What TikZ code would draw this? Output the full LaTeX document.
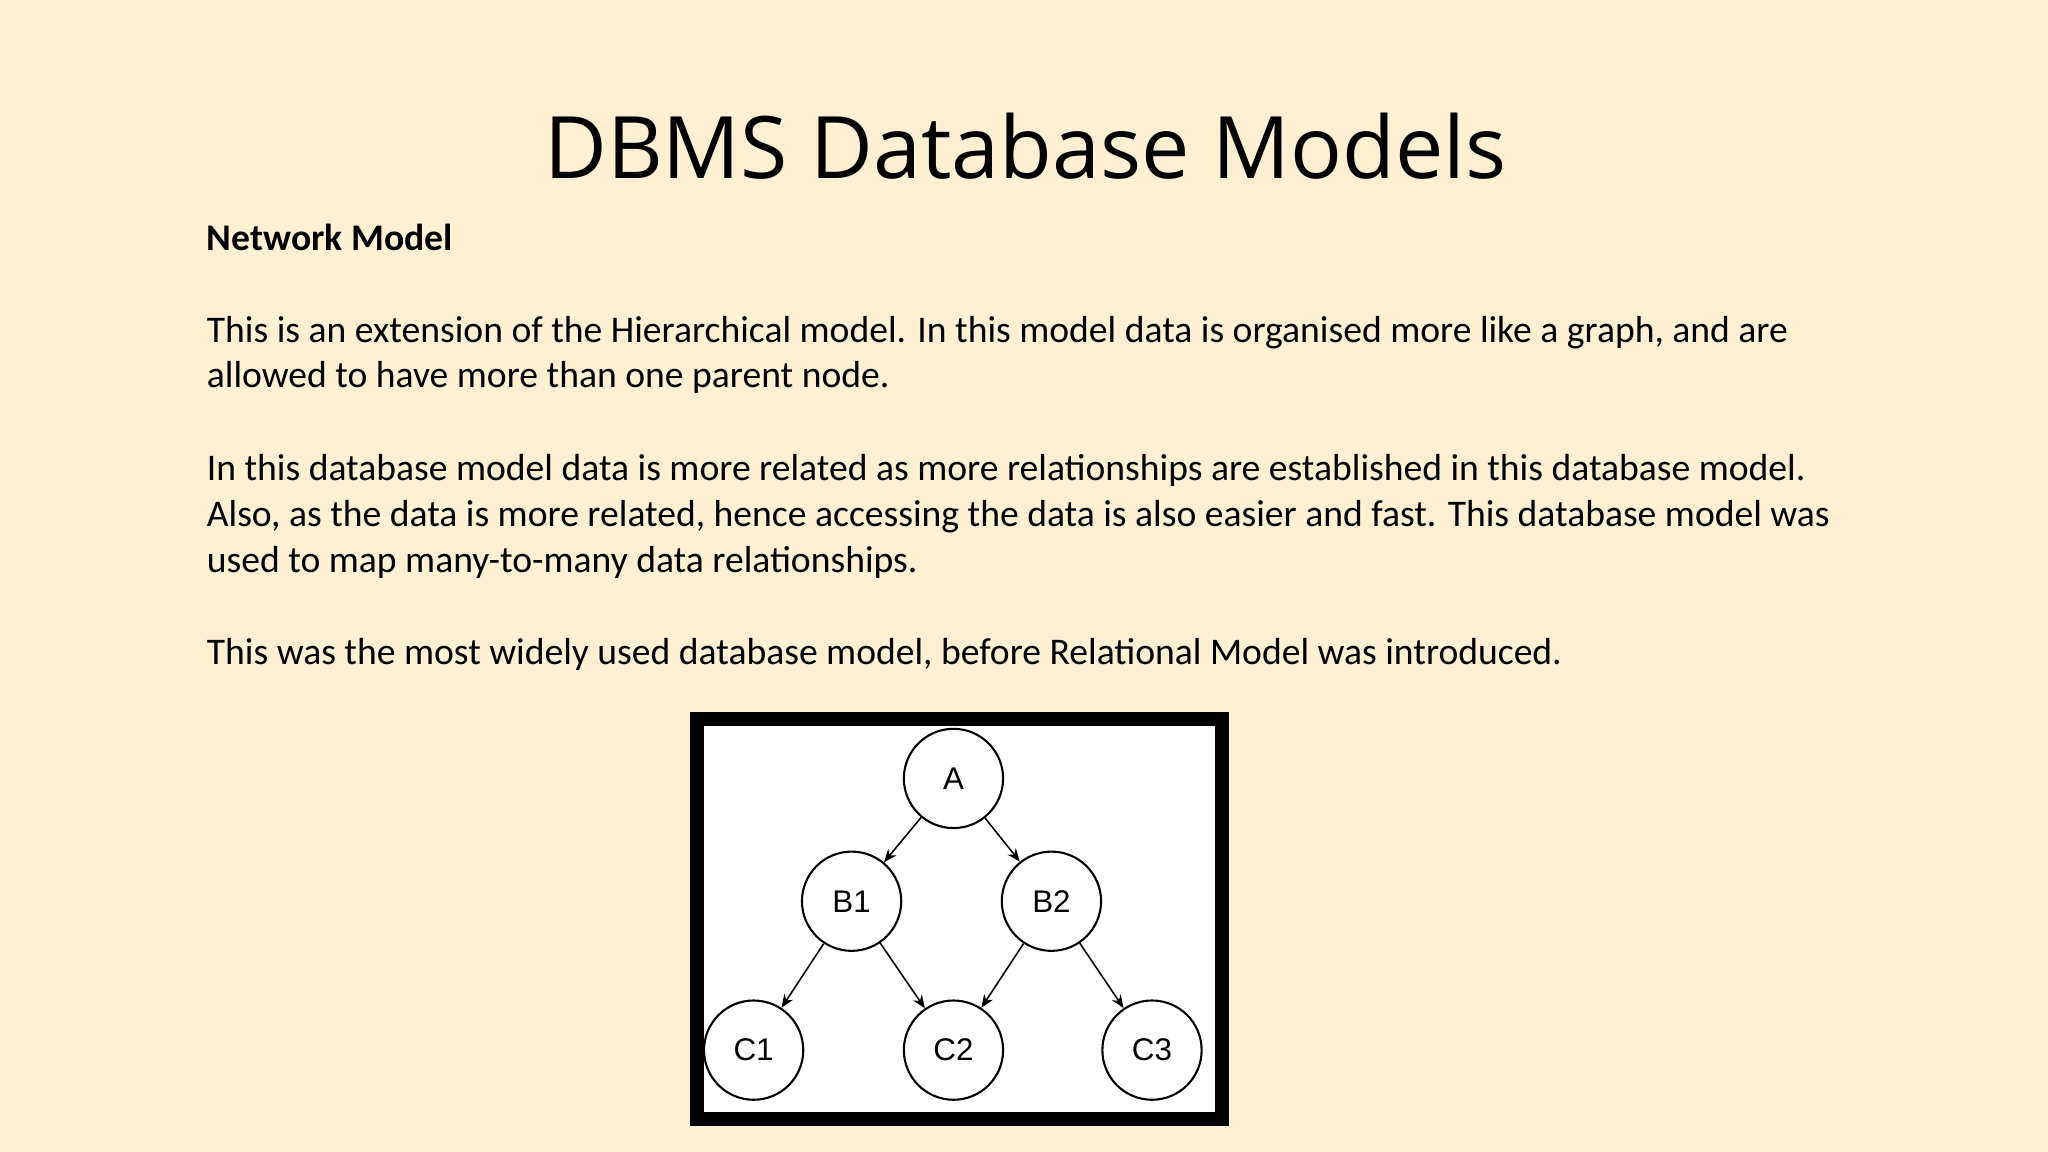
\documentclass[tikz,border=0pt]{standalone}
\usepackage{fontspec}
\setmainfont{Carlito}
\newfontfamily\titlefont{Open Sans}
\newfontfamily\helv{Liberation Sans}
\usetikzlibrary{arrows.meta}
\definecolor{bg}{HTML}{FFF0D4}
\begin{document}
\begin{tikzpicture}[x=0.5pt,y=-0.5pt,
  body/.style={anchor=base west,inner sep=0,font=\fontsize{14.4}{17}\selectfont},
  circ/.style={circle,draw,line width=0.8pt,minimum size=38pt,inner sep=0,font=\helv\fontsize{12}{14}\selectfont},
  arr/.style={-{Stealth[length=5pt,width=4pt]},line width=0.6pt}]
\fill[bg] (0,0) rectangle (1568,882);
\useasboundingbox (0,0) rectangle (1568,882);
\node[anchor=base,inner sep=0,font=\titlefont\fontsize{33}{38}\selectfont] (title) at (785,137) {DBMS Database Models};
\node[body,font=\bfseries\fontsize{14.4}{17}\selectfont] (h) at (158,192) {Network Model};
\node[body] (l1) at (158,262) {This is an extension of the Hierarchical model. In this model data is organised more like a graph, and are};
\node[body] (l2) at (158,297) {allowed to have more than one parent node.};
\node[body] (l3) at (158,368) {In this database model data is more related as more relationships are established in this database model.};
\node[body] (l4) at (158,403) {Also, as the data is more related, hence accessing the data is also easier and fast. This database model was};
\node[body] (l5) at (158,438) {used to map many-to-many data relationships.};
\node[body] (l6) at (158,509) {This was the most widely used database model, before Relational Model was introduced.};
\draw[line width=5.5pt,fill=white] (533.5,550.5) rectangle (935.5,856.5);
\node[circ] (A) at (730,596) {A};
\node[circ] (B1) at (652,690) {B1};
\node[circ] (B2) at (805,690) {B2};
\node[circ] (C1) at (577,804) {C1};
\node[circ] (C2) at (730,804) {C2};
\node[circ] (C3) at (882,804) {C3};
\draw[arr] (A) -- (B1);
\draw[arr] (A) -- (B2);
\draw[arr] (B1) -- (C1);
\draw[arr] (B1) -- (C2);
\draw[arr] (B2) -- (C2);
\draw[arr] (B2) -- (C3);
\end{tikzpicture}
\end{document}
